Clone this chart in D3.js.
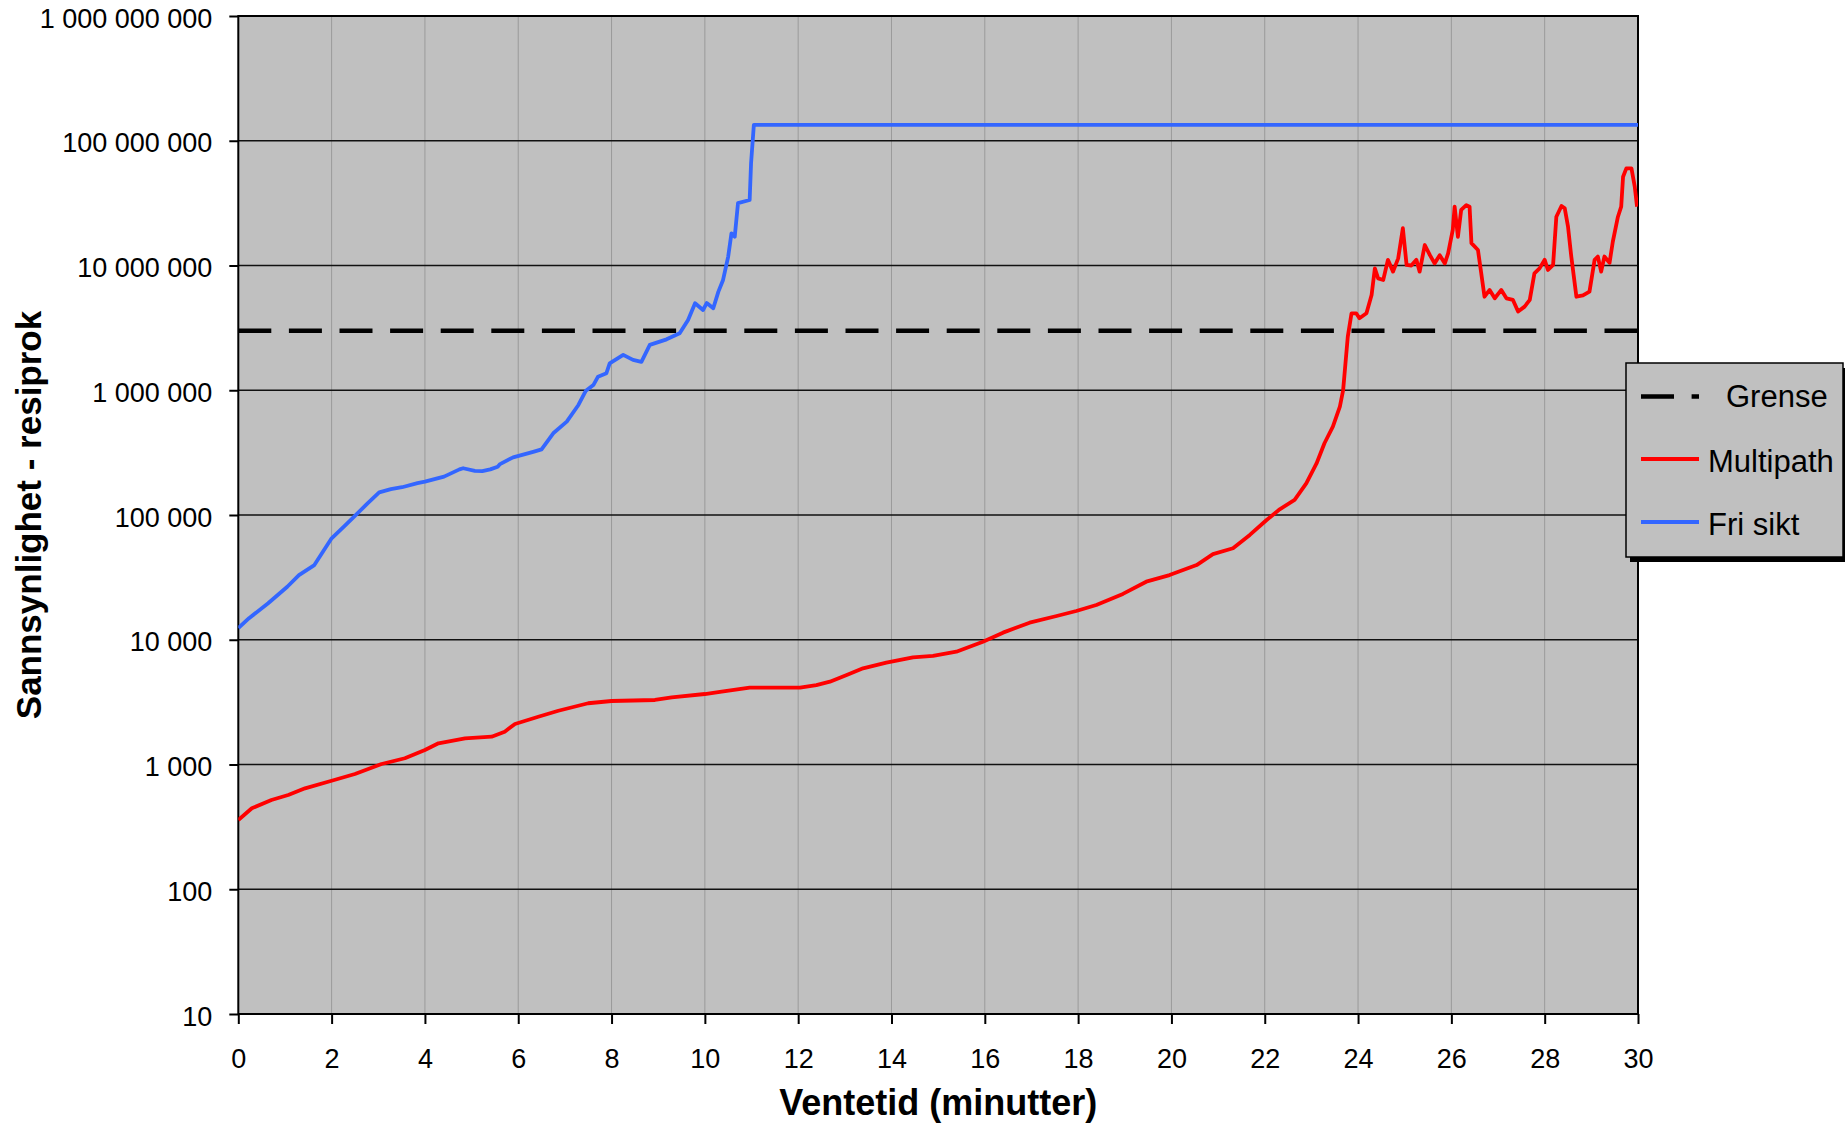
<!DOCTYPE html>
<html>
<head>
<meta charset="utf-8">
<script src="https://cdn.jsdelivr.net/npm/d3@7"></script>
<style>
  html, body { margin: 0; padding: 0; background: #ffffff; }
  svg { display: block; font-family: "Liberation Sans", Arial, sans-serif; }
</style>
</head>
<body>
<svg id="chart" width="1845" height="1123"></svg>
<script>
// ---------------- DATA ----------------
const xTicks = [0, 2, 4, 6, 8, 10, 12, 14, 16, 18, 20, 22, 24, 26, 28, 30];
const yTicks = [10, 100, 1000, 10000, 100000, 1000000, 10000000, 100000000, 1000000000];
const seriesNames = ["Grense", "Multipath", "Fri sikt"];

const grenseValue = 3000000;

const friSiktTime = [0, 0.23, 0.64, 1.05, 1.30, 1.63, 2.0, 2.28, 2.45, 2.77, 3.02, 3.27, 3.51, 3.84, 4.0, 4.41,
  4.74, 4.82, 5.07, 5.23, 5.40, 5.56, 5.61, 5.89, 6.32, 6.5, 6.75, 7.04, 7.29, 7.45, 7.61, 7.71, 7.89,
  7.96, 8.25, 8.46, 8.64, 8.82, 9.18, 9.46, 9.64, 9.79, 9.96, 10.04, 10.18, 10.29, 10.39, 10.50, 10.57,
  10.64, 10.71, 10.96, 10.99, 11.05, 30];
const friSiktValue = [12400, 14900, 19600, 26600, 33000, 39700, 65000, 81700, 94200, 124000, 152000, 161000, 167000, 180000, 185000, 203000,
  232000, 237000, 226000, 225000, 232000, 244000, 256000, 290000, 321000, 336000, 452000, 560000, 762000, 991000, 1100000, 1285000, 1370000,
  1640000, 1920000, 1750000, 1690000, 2310000, 2560000, 2860000, 3660000, 4980000, 4400000, 5000000, 4540000, 6170000, 7660000, 11800000, 18100000,
  17000000, 31600000, 33500000, 65900000, 134000000, 134000000];

const multipathTime = [0, 0.29, 0.71, 1.07, 1.43, 2.0, 2.5, 3.07, 3.57, 4.0, 4.29, 4.86, 5.43, 5.71, 5.93, 6.43,
  6.86, 7.5, 8.0, 8.93, 9.29, 10.0, 10.36, 10.96, 12.04, 12.39, 12.68, 13.04, 13.39, 13.89, 14.46, 14.89,
  15.39, 15.96, 16.39, 16.96, 17.54, 17.96, 18.39, 18.96, 19.46, 19.96, 20.54, 20.89, 21.32, 21.68, 22.04,
  22.32, 22.64, 22.89, 23.11, 23.28, 23.46, 23.61, 23.68, 23.73, 23.78, 23.86, 23.96, 24.03, 24.18, 24.29,
  24.36, 24.43, 24.54, 24.64, 24.75, 24.86, 24.96, 25.04, 25.14, 25.25, 25.32, 25.43, 25.54, 25.64, 25.75,
  25.86, 25.93, 26.03, 26.07, 26.14, 26.21, 26.32, 26.39, 26.43, 26.57, 26.64, 26.71, 26.82, 26.93, 27.07,
  27.18, 27.32, 27.43, 27.57, 27.68, 27.78, 27.89, 28.0, 28.07, 28.18, 28.25, 28.36, 28.43, 28.50, 28.57,
  28.68, 28.82, 28.96, 29.07, 29.14, 29.21, 29.28, 29.39, 29.46, 29.57, 29.64, 29.68, 29.75, 29.86, 29.93, 29.98];
const multipathValue = [359, 446, 519, 569, 644, 741, 839, 1009, 1122, 1306, 1479, 1622, 1671, 1832, 2113, 2415,
  2698, 3097, 3228, 3289, 3459, 3673, 3837, 4130, 4130, 4335, 4613, 5212, 5902, 6546, 7228, 7413,
  8017, 9638, 11400, 13700, 15500, 17000, 19000, 23300, 29200, 33000, 39700, 48600, 54100, 69200, 91200,
  111000, 132000, 179000, 259000, 376000, 511000, 738000, 1000000, 1640000, 2690000, 4140000, 4140000, 3780000, 4140000, 5800000,
  9480000, 7890000, 7660000, 11100000, 8930000, 11400000, 19900000, 10100000, 10000000, 11100000, 8930000, 14600000, 12100000, 10400000, 12100000,
  10400000, 12500000, 19300000, 29600000, 17000000, 27900000, 30500000, 29600000, 15100000, 13300000, 8650000, 5620000, 6370000, 5460000, 6370000,
  5460000, 5300000, 4270000, 4680000, 5300000, 8650000, 9480000, 11100000, 9200000, 10100000, 24600000, 30000000, 28700000, 20500000, 11800000,
  5620000, 5750000, 6170000, 11100000, 11800000, 8930000, 11800000, 10500000, 15500000, 24600000, 29600000, 51500000, 60100000, 60100000, 42900000, 29600000];

// ---------------- LAYOUT ----------------
const plot = { left: 238.3, right: 1638, top: 16, bottom: 1014 };
const colors = { grense: "#000000", multipath: "#ff0000", fri: "#3366ff", bg: "#c0c0c0" };

const svg = d3.select("#chart");

const x = d3.scaleLinear().domain([0, 30]).range([plot.left, plot.right]);
const y = d3.scaleLog().domain([10, 1e9]).range([plot.bottom, plot.top]);

const fmt = v => d3.format(",")(v).replace(/,/g, " ");

// plot background
svg.append("rect")
  .attr("x", plot.left).attr("y", plot.top)
  .attr("width", plot.right - plot.left).attr("height", plot.bottom - plot.top)
  .attr("fill", colors.bg);

// vertical gridlines
svg.append("g").selectAll("line").data(xTicks.slice(1, -1)).join("line")
  .attr("x1", d => x(d)).attr("x2", d => x(d))
  .attr("y1", plot.top).attr("y2", plot.bottom)
  .attr("stroke", "#9a9a9a").attr("stroke-width", 1);

// horizontal gridlines
svg.append("g").selectAll("line").data(yTicks.slice(1, -1)).join("line")
  .attr("x1", plot.left).attr("x2", plot.right)
  .attr("y1", d => y(d)).attr("y2", d => y(d))
  .attr("stroke", "#111").attr("stroke-width", 1.4);

// axes
const xAxis = d3.axisBottom(x).tickValues(xTicks).tickSize(10).tickPadding(0).tickFormat(d => d);
const gx = svg.append("g").attr("transform", `translate(0,${plot.bottom})`).call(xAxis);
gx.select(".domain").remove();
gx.selectAll(".tick line").attr("stroke", "#000").attr("stroke-width", 2);
gx.selectAll(".tick text").attr("font-size", 27).attr("fill", "#000")
  .attr("font-family", "Liberation Sans, Arial, sans-serif")
  .attr("y", 54).attr("dy", 0);

const yAxis = d3.axisLeft(y).tickValues(yTicks).tickSize(9).tickPadding(0).tickFormat(fmt);
const gy = svg.append("g").attr("transform", `translate(${plot.left},0)`).call(yAxis);
gy.select(".domain").remove();
gy.selectAll(".tick line").attr("stroke", "#000").attr("stroke-width", 2);
gy.selectAll(".tick text").attr("font-size", 27).attr("fill", "#000")
  .attr("font-family", "Liberation Sans, Arial, sans-serif")
  .attr("x", -26).attr("dy", 11);

// plot border
svg.append("rect")
  .attr("x", plot.left).attr("y", plot.top)
  .attr("width", plot.right - plot.left).attr("height", plot.bottom - plot.top)
  .attr("fill", "none").attr("stroke", "#000").attr("stroke-width", 2);

// series
const clip = svg.append("clipPath").attr("id", "clip").append("rect")
  .attr("x", plot.left).attr("y", plot.top)
  .attr("width", plot.right - plot.left).attr("height", plot.bottom - plot.top);

const gData = svg.append("g").attr("clip-path", "url(#clip)");

gData.append("line")
  .attr("x1", x(0)).attr("x2", x(30))
  .attr("y1", y(grenseValue)).attr("y2", y(grenseValue))
  .attr("stroke", colors.grense).attr("stroke-width", 4.5)
  .attr("stroke-dasharray", "33 17.6");

const line = d3.line().x(d => x(d[0])).y(d => y(d[1])).curve(d3.curveLinear);

const multiData = multipathTime.map((t, i) => [t, multipathValue[i]]);
const friData = friSiktTime.map((t, i) => [t, friSiktValue[i]]);

gData.append("path").datum(friData)
  .attr("d", line).attr("fill", "none")
  .attr("stroke", colors.fri).attr("stroke-width", 3.8).attr("stroke-linejoin", "round");

gData.append("path").datum(multiData)
  .attr("d", line).attr("fill", "none")
  .attr("stroke", colors.multipath).attr("stroke-width", 3.8).attr("stroke-linejoin", "round");

// axis titles
svg.append("text")
  .attr("x", (plot.left + plot.right) / 2).attr("y", 1115)
  .attr("text-anchor", "middle").attr("font-size", 36).attr("font-weight", "bold")
  .text("Ventetid (minutter)");

svg.append("text")
  .attr("transform", `translate(41,${(plot.top + plot.bottom) / 2}) rotate(-90)`)
  .attr("text-anchor", "middle").attr("font-size", 35).attr("font-weight", "bold")
  .text("Sannsynlighet - resiprok");

// legend
const lg = { x: 1626, y: 363, w: 217, h: 194 };
svg.append("rect").attr("x", lg.x + 4).attr("y", lg.y + 5).attr("width", lg.w).attr("height", lg.h).attr("fill", "#000");
svg.append("rect").attr("x", lg.x).attr("y", lg.y).attr("width", lg.w).attr("height", lg.h)
  .attr("fill", colors.bg).attr("stroke", "#000").attr("stroke-width", 1.5);

const legendItems = [
  { name: seriesNames[0], color: colors.grense, dash: "33 17.6", sw: 4.5, ly: 396.5, tx: 1726, ty: 407 },
  { name: seriesNames[1], color: colors.multipath, dash: null, sw: 4, ly: 459, tx: 1708, ty: 471.5 },
  { name: seriesNames[2], color: colors.fri, dash: null, sw: 4, ly: 522, tx: 1708, ty: 535 }
];
const li = svg.append("g").selectAll("g").data(legendItems).join("g");
li.append("line")
  .attr("x1", 1641).attr("x2", 1699)
  .attr("y1", d => d.ly).attr("y2", d => d.ly)
  .attr("stroke", d => d.color).attr("stroke-width", d => d.sw)
  .attr("stroke-dasharray", d => d.dash);
li.append("text")
  .attr("x", d => d.tx).attr("y", d => d.ty)
  .attr("font-size", 31).attr("fill", "#000")
  .text(d => d.name);
</script>
</body>
</html>
